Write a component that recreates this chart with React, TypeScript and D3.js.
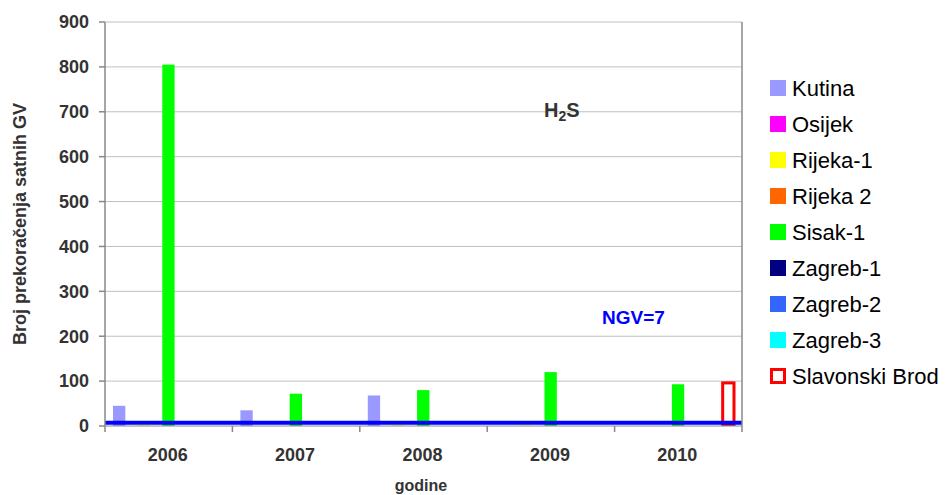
import React from 'react';
import * as d3 from 'd3';

// years on the x axis
const years = ['2006', '2007', '2008', '2009', '2010'];

// stations (series) in legend order
const stations = ['Kutina', 'Osijek', 'Rijeka-1', 'Rijeka 2', 'Sisak-1', 'Zagreb-1', 'Zagreb-2', 'Zagreb-3', 'Slavonski Brod'];
const stationColors = ['#9999ff', '#ff00ff', '#ffff00', '#ff6600', '#00ff00', '#000080', '#3366ff', '#00ffff', '#ff0000'];

// number of hourly limit exceedances per station and year (null = no data)
const kutina = [45, 35, 68, null, null];
const osijek = [null, null, null, null, null];
const rijeka1 = [2, null, 2, 1, null];
const rijeka2 = [null, null, null, null, null];
const sisak1 = [805, 72, 80, 120, 93];
const zagreb1 = [null, null, null, null, null];
const zagreb2 = [null, null, null, null, null];
const zagreb3 = [null, null, null, null, null];
const slavonskiBrod = [null, null, null, null, 96];

const seriesValues: (number | null)[][] = [kutina, osijek, rijeka1, rijeka2, sisak1, zagreb1, zagreb2, zagreb3, slavonskiBrod];

const yTicks = [0, 100, 200, 300, 400, 500, 600, 700, 800, 900];
const ngv = 7;

const App: React.FC = () => {
  const width = 949;
  const height = 495;
  const margin = { top: 22, right: 207, bottom: 69, left: 105 };
  const plotW = width - margin.left - margin.right;
  const plotH = height - margin.top - margin.bottom;

  const x0 = d3.scaleBand().domain(years).range([0, plotW]).paddingInner(0).paddingOuter(0);
  const x1 = d3.scaleBand().domain(stations).range([8, x0.bandwidth() - 8.5]).padding(0);
  const y = d3.scaleLinear().domain([0, 900]).range([plotH, 0]);

  const font = 'Liberation Sans, Arial, sans-serif';

  return (
    <svg width={width} height={height} style={{ position: 'absolute', left: 0, top: 0, background: '#fff' }}>
      <g transform={`translate(${margin.left},${margin.top})`}>
        {/* grid lines */}
        {yTicks.filter(t => t > 0).map(t => (
          <line key={t} x1={0} x2={plotW} y1={y(t)} y2={y(t)} stroke="#c0c0c0" strokeWidth={1} />
        ))}
        {/* bars */}
        {years.map((yr, i) => (
          <g key={yr} transform={`translate(${x0(yr)},0)`}>
            {stations.map((s, k) => {
              const v = seriesValues[k][i];
              if (v == null) return null;
              const bx = x1(s)!;
              const bw = x1.bandwidth();
              if (s === 'Slavonski Brod') {
                return (
                  <rect key={s} x={bx + 1.5} y={y(v)} width={bw - 1} height={plotH - y(v) - 1.5}
                    fill="none" stroke={stationColors[k]} strokeWidth={3} />
                );
              }
              return <rect key={s} x={bx} y={y(v)} width={bw} height={plotH - y(v)} fill={stationColors[k]} />;
            })}
          </g>
        ))}
        {/* NGV limit line */}
        <line x1={0} x2={plotW} y1={y(ngv)} y2={y(ngv)} stroke="#0000ff" strokeWidth={4} />
        {/* axes */}
        <line x1={0} x2={0} y1={0} y2={plotH} stroke="#888" strokeWidth={1.5} />
        <line x1={plotW} x2={plotW} y1={0} y2={plotH + 6} stroke="#888" strokeWidth={1.5} />
        <line x1={0} x2={plotW} y1={plotH} y2={plotH} stroke="#888" strokeWidth={1} />
        {yTicks.map(t => (
          <g key={t}>
            <line x1={-6} x2={0} y1={y(t)} y2={y(t)} stroke="#888" strokeWidth={1.5} />
            <text x={-16} y={y(t)} dy="0.35em" textAnchor="end" fontFamily={font} fontSize={18} fontWeight="bold" fill="#333">{t}</text>
          </g>
        ))}
        {years.map((yr) => (
          <g key={yr}>
            <line x1={x0(yr)!} x2={x0(yr)!} y1={plotH} y2={plotH + 6} stroke="#888" strokeWidth={1.5} />
            <text x={x0(yr)! + x0.bandwidth() / 2 - 1} y={plotH + 35} textAnchor="middle" fontFamily={font} fontSize={18} fontWeight="bold" fill="#333">{yr}</text>
          </g>
        ))}
        {/* annotations */}
        <text x={439} y={95} fontFamily={font} fontSize={20} fontWeight="bold" fill="#333">
          H<tspan fontSize={14} dy={4}>2</tspan><tspan dy={-4}>S</tspan>
        </text>
        <text x={497} y={302} fontFamily={font} fontSize={19} fontWeight="bold" fill="#0000ff">NGV=7</text>
      </g>
      {/* axis titles */}
      <text transform={`translate(26,${margin.top + plotH / 2}) rotate(-90)`} textAnchor="middle" fontFamily={font} fontSize={18} fontWeight="bold" fill="#333">
        Broj prekoračenja satnih GV
      </text>
      <text x={421} y={491} textAnchor="middle" fontFamily={font} fontSize={16} fontWeight="bold" fill="#333">godine</text>
      {/* legend */}
      <g transform="translate(770,80)">
        {stations.map((s, k) => (
          <g key={s} transform={`translate(0,${k * 36})`}>
            {s === 'Slavonski Brod' ? (
              <rect x={1.5} y={1.5} width={13} height={13} fill="none" stroke={stationColors[k]} strokeWidth={3} />
            ) : (
              <rect x={0} y={0} width={16} height={16} fill={stationColors[k]} />
            )}
            <text x={22} y={16} fontFamily={font} fontSize={22} fill="#000">{s}</text>
          </g>
        ))}
      </g>
    </svg>
  );
};

export default App;
